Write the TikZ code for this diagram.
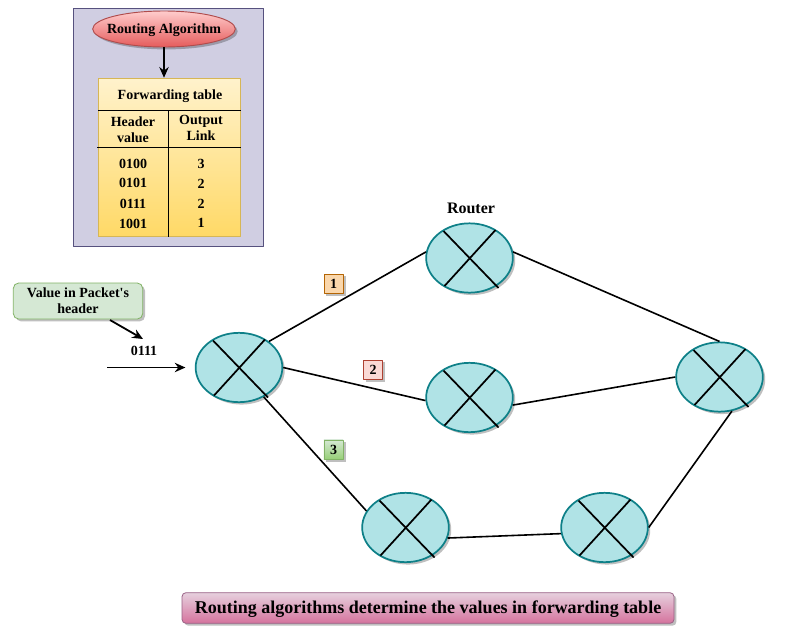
\documentclass[tikz,border=0pt]{standalone}
\usepackage{fontspec}
\setmainfont{Liberation Serif}
\newfontfamily\labelfam{Liberation Serif}
\usetikzlibrary{shapes.geometric,shadows,arrows.meta}
\definecolor{panelfill}{HTML}{D0CEE2}
\definecolor{panelline}{HTML}{56517E}
\definecolor{routerfill}{HTML}{B0E3E6}
\definecolor{routerline}{HTML}{0E8088}
\newcommand{\lblfont}{\labelfam\bfseries\fontsize{10.5}{12}\selectfont}
\tikzset{
	softshadow/.style={drop shadow={shadow xshift=1.8pt,shadow yshift=-1.8pt,fill=black,opacity=0.25}},
	router/.style={ellipse,draw=routerline,fill=routerfill,line width=1.3pt,minimum width=65pt,minimum height=52pt,inner sep=0pt,softshadow},
	crossline/.style={line width=1.3pt},
	link/.style={line width=1.2pt},
	flow/.style={line width=1.35pt,-{Stealth[length=8pt,width=7pt]}},
	tableline/.style={line width=0.7pt},
	tag/.style={draw,minimum size=14.5pt,inner sep=0pt,font=\lblfont,softshadow},
	txt/.style={font=\lblfont,align=center,inner sep=0pt}
}
\begin{document}
\begin{tikzpicture}[x=0.75pt,y=-0.75pt,line join=round]
	\useasboundingbox (0,0) rectangle (800,640);
	% panel with the table
	\node (panel) at (168.5,127.5) [draw=panelline,fill=panelfill,line width=0.7pt,minimum width=143pt,minimum height=179pt,inner sep=0pt]{};
	\node (algo) at (164,29) [ellipse,draw=red!55!black!70,top color=red!20!white,bottom color=red!60!white!90!black,line width=0.7pt,minimum width=107pt,minimum height=27pt,inner xsep=-5pt,inner ysep=0pt,text depth=1pt,softshadow,font=\lblfont]{Routing Algorithm};
	\node (fwd) at (169.5,157.5) [draw={rgb,255:red,214;green,182;blue,86},top color={rgb,255:red,255;green,242;blue,204},bottom color={rgb,255:red,255;green,217;blue,102},line width=0.6pt,minimum width=107pt,minimum height=119pt,inner sep=0pt]{};
	\draw[flow] (algo.south) -- (fwd.north -| algo.south);
	\coordinate (rowa) at (98,110);
	\coordinate (rowb) at (97,147.5);
	\coordinate (mid) at (168,110);
	\draw[tableline] (rowa) -- (rowa -| fwd.east) (rowb) -- (rowb -| fwd.east) (mid) -- (mid |- fwd.south);
	\node (fwdtitle) at (170,96) [txt]{Forwarding table};
	\node (hdr) at (133,129.5) [txt]{Header\\value};
	\node (out) at (201,127.5) [txt]{Output\\Link};
	\foreach \val/\lnk/\y/\yy in {0100/3/163.5/163.5,0101/2/182.5/183.5,0111/2/203.5/203.5,1001/1/223.5/222.5}{
		\node (v\val) at (133,\y) [txt]{\val};
		\node (l\val) at (201,\yy) [txt]{\lnk};
	}
	% packet coming in
	\node (pkthdr) at (78,301) [draw={rgb,255:red,130;green,179;blue,102},fill={rgb,255:red,213;green,232;blue,212},rounded corners=4pt,line width=0.6pt,minimum width=97pt,minimum height=27pt,inner sep=0pt,softshadow,font=\lblfont,align=center]{Value in Packet's\\header};
	\coordinate (pkttip) at (143,339);
	\draw[flow] (110,320) -- (pkttip);
	\node (pktval) at (144,350.5) [txt]{0111};
	\coordinate (pktin) at (107,367.5);
	% routers
	\node[router] (r0) at (239,367.5){};
	\node[router] (r1) at (469.5,258){};
	\node[router] (r2) at (469.5,397.5){};
	\node[router] (r3) at (719.5,377){};
	\node[router] (r4) at (405.5,527.5){};
	\node[router] (r5) at (604.5,527.5){};
	\foreach \r in {r0,r1,r2,r3,r4,r5}{
		\draw[crossline] ([shift={(-26,-27)}]\r.center) -- ([shift={(29,30)}]\r.center);
		\draw[crossline] ([shift={(26,-28)}]\r.center) -- ([shift={(-25,28)}]\r.center);
	}
	\draw[flow,shorten >=7pt] (pktin) -- (r0.west);
	\draw[link] (r0.41) -- (r1.172);
	\draw[link] (r1.8) -- (r3.90);
	\draw[link] (r0.0) -- (r2.184);
	\draw[link] (r2.-10) -- (r3.180);
	\draw[link] (r0.-50) -- (r4.157);
	\draw[link] (r4.-14) -- (r5.188);
	\draw[link] (r5.0) -- (r3.-70);
	\node (routerlbl) at (471,208.5) [font=\labelfam\bfseries\fontsize{12}{14}\selectfont]{Router};
	% path tags
	\node[tag,draw={rgb,255:red,180;green,101;blue,4},fill={rgb,255:red,250;green,215;blue,172}] (tagone) at (333.5,283.5){1};
	\node[tag,draw={rgb,255:red,174;green,65;blue,50},fill={rgb,255:red,250;green,217;blue,213}] (tagtwo) at (373,369.5){2};
	\node[tag,draw={rgb,255:red,130;green,179;blue,102},top color={rgb,255:red,213;green,232;blue,212},bottom color={rgb,255:red,151;green,208;blue,119}] (tagthree) at (333.5,449.5){3};
	% caption
	\node (caption) at (428,608) [draw={rgb,255:red,153;green,97;blue,133},top color={rgb,255:red,230;green,208;blue,222},bottom color={rgb,255:red,213;green,115;blue,157},rounded corners=3pt,line width=0.6pt,minimum width=369pt,minimum height=23pt,inner sep=0pt,text depth=2pt,softshadow,font=\labelfam\bfseries\fontsize{13.5}{16}\selectfont]{Routing algorithms determine the values in forwarding table};
\end{tikzpicture}
\end{document}
